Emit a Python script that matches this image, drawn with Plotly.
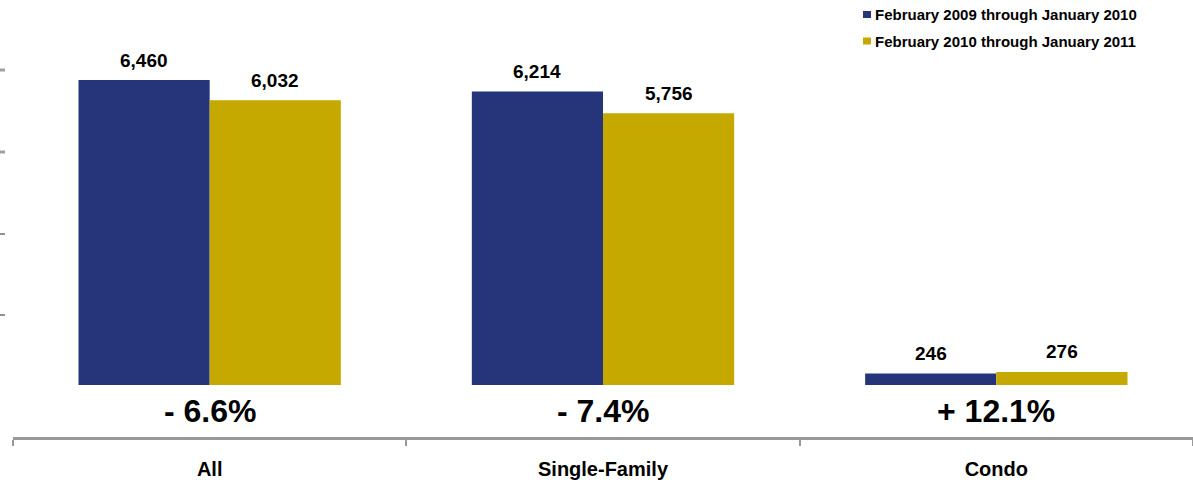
import plotly.graph_objects as go

# Home sales by property type, two 12-month periods
categories = ["All", "Single-Family", "Condo"]
series_names = [
    "February 2009 through January 2010",
    "February 2010 through January 2011",
]
sales_2009_2010 = [6460, 6214, 246]
sales_2010_2011 = [6032, 5756, 276]
change_labels = ["- 6.6%", "- 7.4%", "+ 12.1%"]

NAVY = "#26347A"
GOLD = "#C5A900"
FONT = "Liberation Sans, Arial, sans-serif"

W, H = 1193, 483
ML, MR, MT, MB = 13, 0, 0, 46
PW, PH = W - ML - MR, H - MT - MB

BARGAP = 0.333
UNITS_PER_PX = 21.18          # value scale of the y axis
ZERO_PX = 385                 # pixel row of the value zero
y_range = [-(PH - ZERO_PX) * UNITS_PER_PX, ZERO_PX * UNITS_PER_PX]


def px_x(p):
    return (p - ML) / PW


def px_y(p):
    return (MT + PH - p) / PH


def y_at(p):
    return (ZERO_PX - p) * UNITS_PER_PX


fig = go.Figure()
for name, vals, col in [(series_names[0], sales_2009_2010, NAVY),
                        (series_names[1], sales_2010_2011, GOLD)]:
    fig.add_trace(go.Bar(
        x=categories, y=vals, name=name,
        marker=dict(color=col, line=dict(width=0)),
        showlegend=False, hoverinfo="skip",
    ))

annotations = []
slot_px = PW / len(categories)
bar_px = slot_px * (1 - BARGAP) / 2
for i, cat in enumerate(categories):
    for j, vals in enumerate([sales_2009_2010, sales_2010_2011]):
        annotations.append(dict(
            x=cat, y=vals[i], xref="x", yref="y",
            xshift=(j - 0.5) * bar_px, yshift=20,
            text=f"{vals[i]:,}", showarrow=False,
            xanchor="center", yanchor="middle",
            font=dict(family=FONT, size=19, color="#000000", weight="bold"),
        ))
    annotations.append(dict(
        x=cat, y=y_at(411), xref="x", yref="y",
        text=change_labels[i], showarrow=False,
        xanchor="center", yanchor="middle",
        font=dict(family=FONT, size=32, color="#000000", weight="bold"),
    ))

# legend drawn as swatches plus text
shapes = []
legend_rows = [(series_names[0], NAVY, 14.5), (series_names[1], GOLD, 41)]
for name, col, cy in legend_rows:
    shapes.append(dict(
        type="rect", xref="paper", yref="paper",
        x0=px_x(863), x1=px_x(871), y0=px_y(cy + 3.5), y1=px_y(cy - 3.5),
        fillcolor=col, line=dict(width=0),
    ))
    annotations.append(dict(
        x=px_x(873), y=px_y(cy), xref="paper", yref="paper",
        text=name, showarrow=False, xanchor="left", yanchor="middle",
        font=dict(family=FONT, size=15, color="#000000", weight="bold"),
    ))

# short tick marks on the left edge
for p, col, w in [(70, "#A0A0A0", 3), (152, "#A0A0A0", 3),
                  (234, "#222222", 1), (315, "#222222", 1)]:
    shapes.append(dict(
        type="line", xref="paper", yref="y",
        x0=px_x(0), x1=px_x(5), y0=y_at(p), y1=y_at(p),
        line=dict(color=col, width=w),
    ))

fig.update_layout(
    width=W, height=H,
    margin=dict(l=ML, r=MR, t=MT, b=MB, pad=0),
    paper_bgcolor="white", plot_bgcolor="white",
    barmode="group", bargap=BARGAP, bargroupgap=0,
    showlegend=False,
    annotations=annotations, shapes=shapes,
    xaxis=dict(
        showline=True, linecolor="#999999", linewidth=3,
        ticks="outside", tickson="boundaries", ticklen=6,
        tickcolor="#999999", tickwidth=2,
        showgrid=False, zeroline=False,
        ticklabelstandoff=12,
        tickfont=dict(family=FONT, size=20, color="#000000", weight="bold"),
    ),
    yaxis=dict(
        range=y_range, showgrid=False, zeroline=False,
        showline=False, showticklabels=False, ticks="",
    ),
)

fig.write_html("out.html")
